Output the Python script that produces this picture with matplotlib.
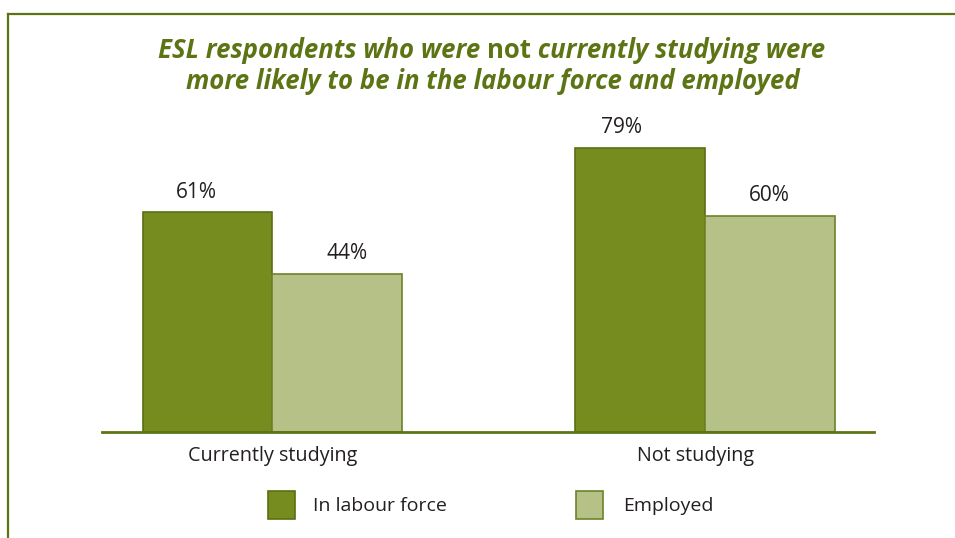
import matplotlib
matplotlib.use("Agg")
import matplotlib.pyplot as plt
from matplotlib.lines import Line2D
from matplotlib.patches import Rectangle
from matplotlib.transforms import ScaledTranslation
import numpy as np

categories = ["Currently studying", "Not studying"]
series_names = ["In labour force", "Employed"]
in_labour_force = [61, 79]
employed = [44, 60]

dark_fill, dark_edge = "#768c1e", "#5a7012"
light_fill, light_edge = "#b5c186", "#6e8226"
title_color = "#5c7414"
text_color = "#231f20"
font = "Open Sans"

fig = plt.figure(figsize=(9.55, 5.38), dpi=100)
W, H = 955, 538

# outer frame: top and left rules
fig.add_artist(Line2D([8 / W, 1], [1 - 14 / H, 1 - 14 / H], color="#5c7414", lw=1.6))
fig.add_artist(Line2D([8 / W, 8 / W], [0, 1 - 14 / H], color="#5c7414", lw=1.6))

ax = fig.add_axes([102 / W, 106 / H, (874 - 102) / W, 360 / H])
x = np.arange(len(categories))
bw = 0.3
b1 = ax.bar(x - bw / 2, in_labour_force, bw, color=dark_fill, edgecolor=dark_edge, lw=1.2)
b2 = ax.bar(x + bw / 2, employed, bw, color=light_fill, edgecolor=light_edge, lw=1.2)
ax.set_xlim(-0.394, 1.391)
ax.set_ylim(0, 100)

# value labels sit slightly off-centre over some bars
label_shift = {(0, 0): -11, (0, 1): -19, (1, 0): 10, (1, 1): 0}
for si, (bars, vals) in enumerate(((b1, in_labour_force), (b2, employed))):
    for ci, (rect, v) in enumerate(zip(bars, vals)):
        ax.annotate(f"{v}%", (rect.get_x() + rect.get_width() / 2, v),
                    xytext=(label_shift[(si, ci)] * 0.72, 7),
                    textcoords="offset points",
                    ha="center", va="bottom", fontsize=15,
                    family=font, color=text_color)

for s in ("top", "right", "left"):
    ax.spines[s].set_visible(False)
ax.spines["bottom"].set_color("#5c7414")
ax.spines["bottom"].set_linewidth(2)
ax.set_yticks([])
ax.set_xticks(x)
ax.set_xticklabels(categories, family=font, fontsize=14.2, color=text_color)
ax.tick_params(axis="x", length=0, pad=10)
lab = ax.get_xticklabels()[1]
lab.set_transform(lab.get_transform() + ScaledTranslation(-9 / 100, 0, fig.dpi_scale_trans))

# title, with the word "not" set upright
l1y = 1 - 50 / H
l2y = 1 - 82 / H
tkw = dict(family=font, fontsize=18.5, weight="bold", color=title_color, va="center")
t_a = fig.text(0, l1y, "ESL respondents who were ", style="italic", **tkw)
t_b = fig.text(0, l1y, "not", style="normal", **tkw)
t_c = fig.text(0, l1y, " currently studying were", style="italic", **tkw)
fig.text(493 / W, l2y, "more likely to be in the labour force and employed",
         style="italic", ha="center", **tkw)

fig.canvas.draw()
r = fig.canvas.get_renderer()
widths = [t.get_window_extent(r).width for t in (t_a, t_b, t_c)]
start = 492 - sum(widths) / 2
for t, w in zip((t_a, t_b, t_c), widths):
    t.set_x(start / W)
    start += w

# legend
for (lx, tx, fill, edge, name) in ((268, 313, dark_fill, dark_edge, series_names[0]),
                                   (576, 623, light_fill, light_edge, series_names[1])):
    fig.add_artist(Rectangle((lx / W, 1 - 519 / H), 27 / W, 28 / H,
                             facecolor=fill, edgecolor=edge, lw=1.2,
                             transform=fig.transFigure))
    fig.text(tx / W, 1 - 506 / H, name, family=font, fontsize=14,
             color=text_color, va="center", ha="left")

fig.savefig("out.png", dpi=100)
